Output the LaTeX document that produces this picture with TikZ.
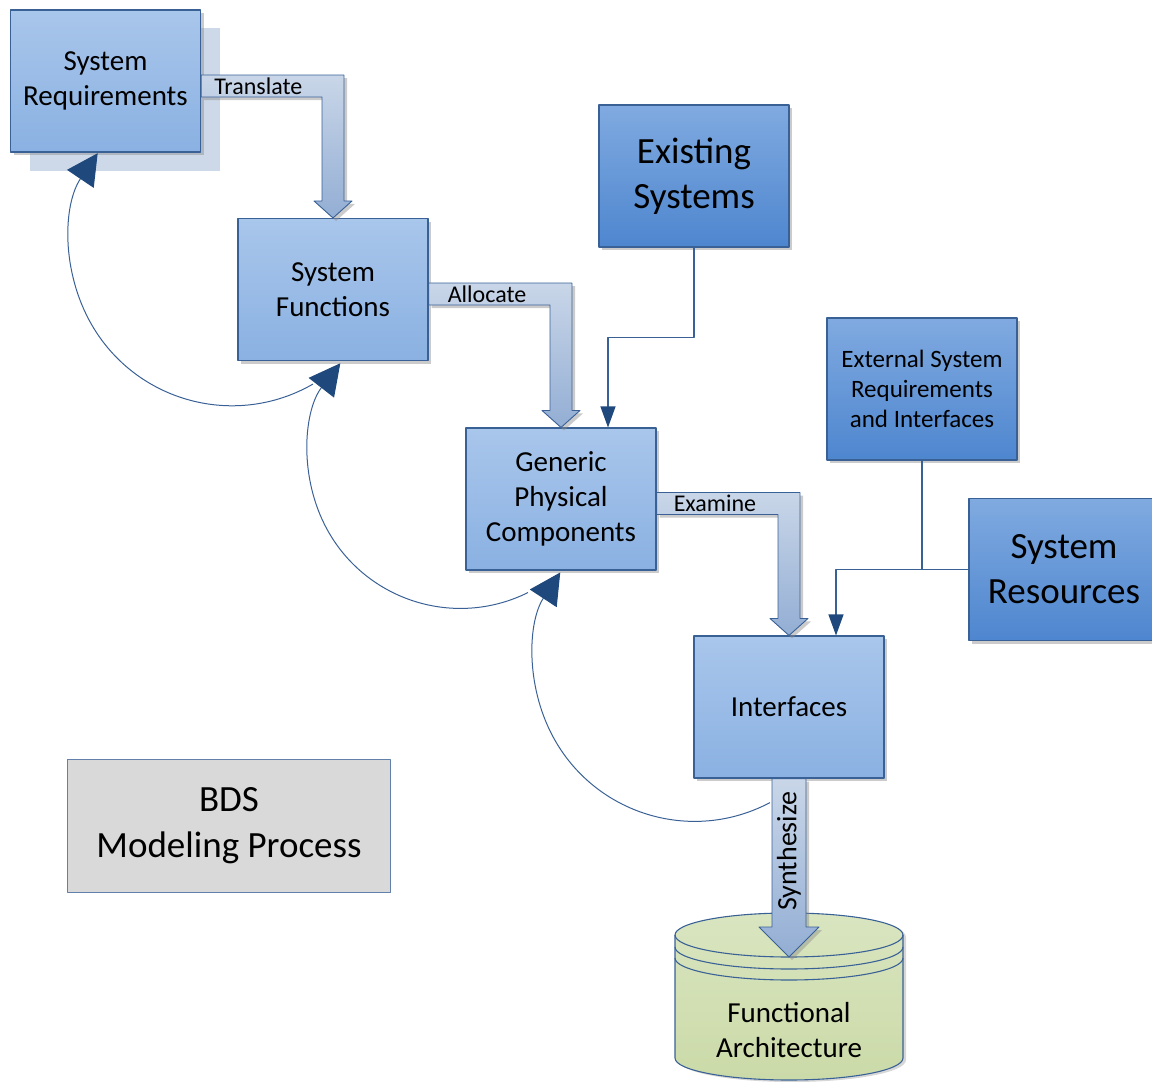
\documentclass[tikz,border=0pt]{standalone}
\usepackage{fontspec}
\setmainfont{Carlito}
\usetikzlibrary{arrows.meta}
\usetikzlibrary{shadows}
\usetikzlibrary{calc}
\definecolor{boxtop}{HTML}{A9C6EB}
\definecolor{boxbot}{HTML}{8AB1E2}
\definecolor{darktop}{HTML}{80AAE0}
\definecolor{darkbot}{HTML}{4E86CF}
\definecolor{boxline}{HTML}{3A6196}
\definecolor{headblue}{HTML}{1F497D}
\definecolor{fattop}{HTML}{C9D6E8}
\definecolor{fatbot}{HTML}{93AED4}
\definecolor{cardblue}{HTML}{CDD9E9}
\definecolor{cyltop}{HTML}{D9E5C0}
\definecolor{cylbot}{HTML}{CBDAA8}
\definecolor{notegray}{HTML}{D9D9D9}
% bent fat arrow: band start point, tip point
\newcommand{\fatbend}[2]{%
  \path[fatarrow] let \p1=(#1), \p2=(#2) in
    (\x1,\y1+11pt) -- (\x2+11pt,\y1+11pt) -- (\x2+11pt,\y2+17pt)
    -- (\x2+19pt,\y2+17pt) -- (\x2,\y2) -- (\x2-19pt,\y2+17pt)
    -- (\x2-11pt,\y2+17pt) -- (\x2-11pt,\y1-11pt) -- (\x1,\y1-11pt) -- cycle;}

\begin{document}
\begin{tikzpicture}[x=1pt,y=-1pt,line join=round,
  lightbox/.style={draw=boxline,line width=1.1pt,top color=boxtop,bottom color=boxbot,
    minimum width=190pt,minimum height=142pt,inner sep=0pt,align=center,
    font=\fontsize{29}{35}\selectfont,
    drop shadow={shadow xshift=3pt,shadow yshift=-3pt,fill=black!45,opacity=0.45}},
  darkbox/.style={lightbox,top color=darktop,bottom color=darkbot},
  fatarrow/.style={draw=boxline,line width=0.9pt,top color=fattop,bottom color=fatbot,
    drop shadow={shadow xshift=3pt,shadow yshift=-3pt,fill=black!45,opacity=0.45}},
  fatlabel/.style={inner sep=0pt,font=\fontsize{24}{28}\selectfont},
  feed/.style={draw=boxline,line width=1.1pt,-{Triangle[length=21pt,width=15pt,color=headblue]}},
  loopback/.style={draw=boxline,line width=1pt,-{Triangle[length=31pt,width=32pt,color=headblue]}},
  cylline/.style={draw=boxline,line width=1.1pt}]
\useasboundingbox (0,0) rectangle (1152,1082);

% stacked card behind the requirements
\fill[cardblue] (30,28) rectangle (220,171);

\node[lightbox] (sreq) at (105.5,81) {System\\Requirements};
\node[lightbox] (sfun) at (333,289.5) {System\\Functions};
\node[lightbox] (gpc) at (561,499) {Generic\\Physical\\Components};
\node[lightbox] (ifc) at (789,707) {Interfaces};
\node[darkbox,font=\fontsize{37}{45}\selectfont] (exsys) at (694,176) {Existing\\Systems};
\node[darkbox,font=\fontsize{25}{30}\selectfont] (extreq) at (922,389) {External System\\Requirements\\and Interfaces};
\node[darkbox,font=\fontsize{37}{45}\selectfont] (sysres) at (1064,569.5) {System\\Resources};
\node[draw=boxline!80,line width=1pt,fill=notegray,minimum width=323pt,minimum height=133pt,
  align=center,font=\fontsize{37}{46}\selectfont] (bds) at (229,826) {BDS\\Modeling Process};

% functional architecture store
\path[cylline,top color=cyltop,bottom color=cylbot,
  drop shadow={shadow xshift=3pt,shadow yshift=-2pt,fill=black!45,opacity=0.35}]
  (675,935) -- (675,1058) arc[start angle=180,end angle=0,x radius=114,y radius=22]
  -- (903,935) arc[start angle=0,end angle=-180,x radius=114,y radius=22] -- cycle;
\foreach \dy in {0,12,23}
  \draw[cylline] (675,935+\dy) arc[start angle=180,end angle=0,x radius=114,y radius=22];
\coordinate (cyltip) at (789,957);
\node[align=center,font=\fontsize{29}{35}\selectfont] (farch) at (789,1030) {Functional\\Architecture};

% feedback loops
\draw[loopback] ([shift={(-20,23)}]sfun.south) arc[start angle=60,end angle=214,radius=162];
\draw[loopback] ([shift={(-33,22)}]gpc.south) arc[start angle=63.6,end angle=217.8,radius=152];
\draw[loopback] ([shift={(-19,24)}]ifc.south) arc[start angle=62,end angle=213.3,radius=160.7];

% inputs
\draw[feed] (exsys.south) -- ++(0,90) -| ([xshift=47pt]gpc.north);
\draw[boxline,line width=1.1pt] (extreq.south) -- (extreq.south |- sysres.west);
\draw[feed] (sysres.west) -| ([xshift=47pt]ifc.north);

% process steps
\fatbend{[yshift=-5pt]sreq.east}{sfun.north}
\node[fatlabel,anchor=west] (ltrans) at ([shift={(13,5)}]sreq.east) {Translate};
\fatbend{[yshift=-4.5pt]sfun.east}{gpc.north}
\node[fatlabel,anchor=west] (lalloc) at ([shift={(19,4.5)}]sfun.east) {Allocate};
\fatbend{[yshift=-4.5pt]gpc.east}{ifc.north}
\node[fatlabel,anchor=west] (lexam) at ([shift={(17,4.5)}]gpc.east) {Examine};
\path[fatarrow] let \p1=(ifc.south), \p2=(cyltip) in
  (\x1-17pt,\y1) -- (\x1+17pt,\y1) -- (\x1+17pt,\y2+30pt) -- (\x1+30pt,\y2+30pt)
  -- (\x2,\y2) -- (\x1-30pt,\y2+30pt) -- (\x1-17pt,\y2+30pt) -- cycle;
\node[fatlabel,font=\fontsize{28}{32}\selectfont,rotate=90] (lsynth) at (789,851) {Synthesize};
\end{tikzpicture}
\end{document}
